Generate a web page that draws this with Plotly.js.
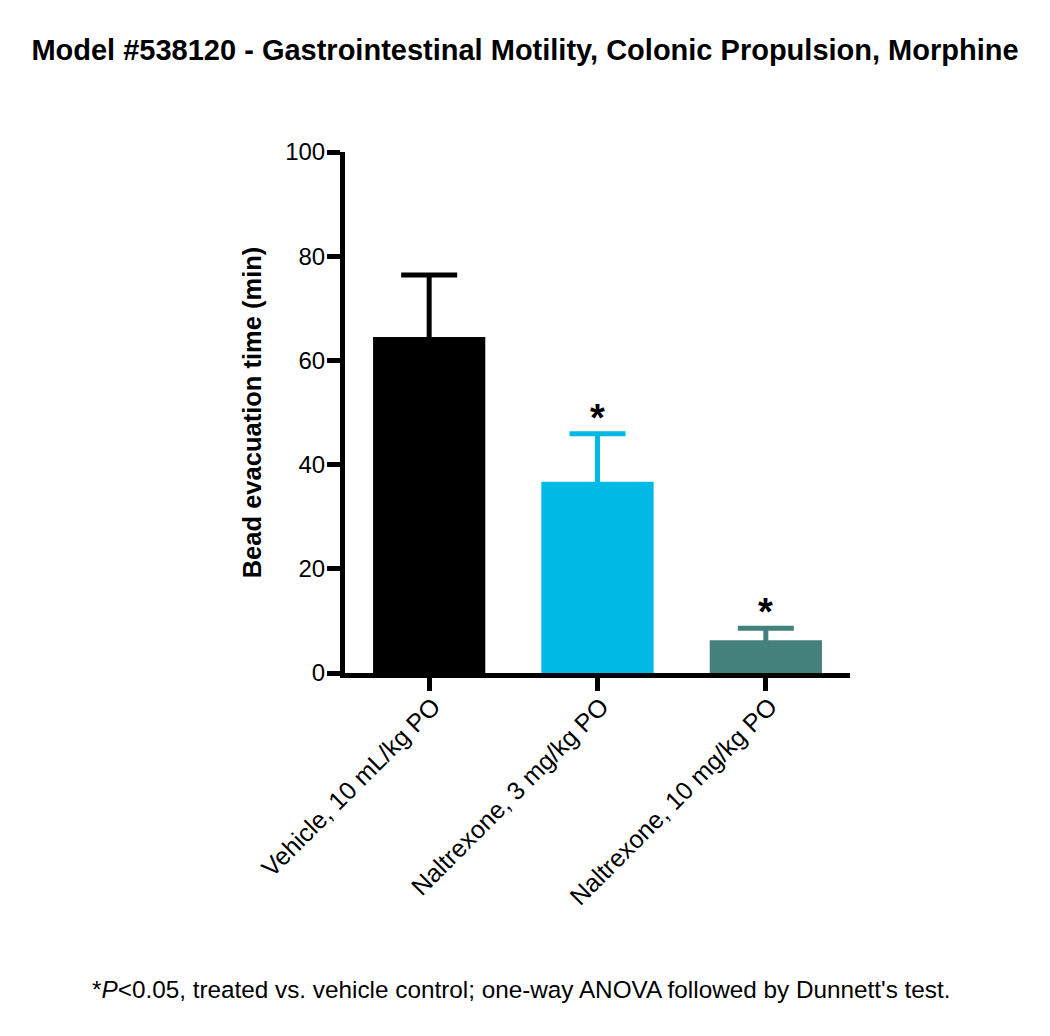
<!DOCTYPE html>
<html>
<head>
<meta charset="utf-8">
<script src="https://cdn.plot.ly/plotly-3.0.1.min.js"></script>
<style>html,body{margin:0;padding:0;background:#fff;}#chart{width:1050px;height:1036px;}</style>
</head>
<body>
<div id="chart"></div>
<script>
const categories = ["Vehicle, 10 mL/kg PO", "Naltrexone, 3 mg/kg PO", "Naltrexone, 10 mg/kg PO"];
const means = [64.5, 36.7, 6.3];
const sem = [11.9, 9.2, 2.3];
const colors = ["#000000", "#00B9E4", "#44817C"];
const significant = [false, true, true];
const yTicks = [0, 20, 40, 60, 80, 100];

const FONT = "Liberation Sans, Arial, Helvetica, sans-serif";

const traces = categories.map((c, i) => ({
  type: "bar",
  x: [c],
  y: [means[i]],
  marker: {color: colors[i], line: {width: 0}},
  // upper error only; lower whisker runs inside the bar down to the axis
  error_y: {type: "data", symmetric: false, array: [sem[i]], arrayminus: [means[i]],
            color: colors[i], thickness: 5, width: 28},
  showlegend: false,
  hoverinfo: "skip"
}));

const annotations = [];
categories.forEach((c, i) => {
  if (significant[i]) {
    annotations.push({x: c, y: means[i] + sem[i], xref: "x", yref: "y",
      text: "<b>*</b>", showarrow: false, yanchor: "bottom", yshift: -7,
      font: {family: FONT, size: 38, color: "#000"}});
  }
});
annotations.push({xref: "paper", yref: "paper", x: 0.3485, y: -0.608,
  xanchor: "center", yanchor: "middle", showarrow: false,
  text: "*<i>P</i><0.05, treated vs. vehicle control; one-way ANOVA followed by Dunnett's test.",
  font: {family: FONT, size: 24.3, color: "#000"}});

const layout = {
  width: 1050, height: 1036,
  margin: {l: 345, r: 200, t: 152, b: 363, pad: 0},
  paper_bgcolor: "#fff", plot_bgcolor: "#fff",
  bargap: 1/3,
  title: {text: "<b>Model #538120 - Gastrointestinal Motility, Colonic Propulsion, Morphine</b>",
    x: 0.5, xref: "container", y: 1 - 50/1036, yref: "container", yanchor: "middle",
    font: {family: FONT, size: 29, color: "#000"}},
  xaxis: {
    type: "category", range: [-0.5, 2.5], showgrid: false, zeroline: false,
    showline: true, linecolor: "#000", linewidth: 5,
    ticks: "outside", ticklen: 13, tickwidth: 5, tickcolor: "#000",
    ticklabelstandoff: -9, ticklabelshift: 4,
    tickangle: -45, tickfont: {family: FONT, size: 25, color: "#000"}
  },
  yaxis: {
    range: [0, 100], showgrid: false, zeroline: false,
    showline: true, linecolor: "#000", linewidth: 5,
    ticks: "outside", ticklen: 13, tickwidth: 5, tickcolor: "#000",
    ticklabelstandoff: -3,
    tickvals: yTicks, ticktext: yTicks.map(String),
    tickfont: {family: FONT, size: 24, color: "#000"},
    title: {text: "<b>Bead evacuation time (min)</b>", standoff: 18,
      font: {family: FONT, size: 25.5, color: "#000"}}
  },
  annotations: annotations
};

Plotly.newPlot("chart", traces, layout, {staticPlot: true, displayModeBar: false});
</script>
</body>
</html>
